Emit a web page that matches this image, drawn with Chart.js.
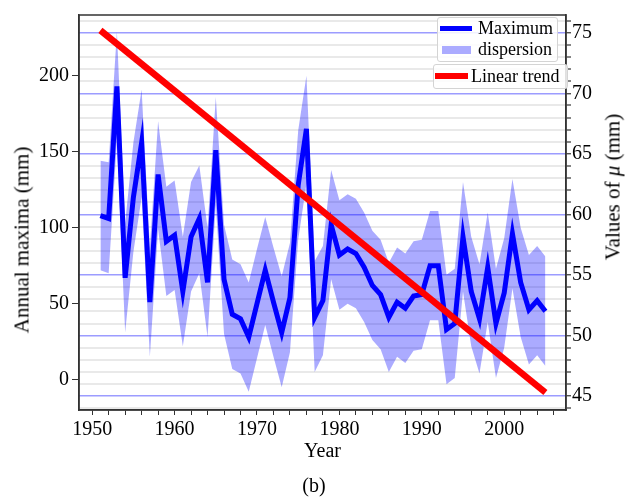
<!DOCTYPE html>
<html>
<head>
<meta charset="utf-8">
<script src="https://cdn.jsdelivr.net/npm/chart.js@4.4.1/dist/chart.umd.min.js"></script>
<style>
  html, body { margin: 0; padding: 0; background: #fff; }
  #wrap { position: relative; width: 628px; height: 501px; font-family: "Liberation Serif", serif; color: #000; }
  .ytitle { position: absolute; font-size: 21px; white-space: nowrap; transform: translate(-50%, -50%) rotate(-90deg); }
  .legend { position: absolute; background: rgba(255,255,255,0.85); border: 1px solid #d4d4d4; border-radius: 3px; box-sizing: border-box; font-size: 18px; }
  .legend div { position: absolute; }
  .legend .txt { line-height: 20px; white-space: nowrap; }
</style>
</head>
<body>
<div id="wrap">
  <canvas id="chart" width="628" height="501"></canvas>
  <div class="ytitle" style="left:22px; top:240px;">Annual maxima (mm)</div>
  <div class="ytitle" style="left:613px; top:187px;">Values of <i>μ</i> (mm)</div>
  <div class="legend" style="left:437px; top:17px; width:121px; height:45px;">
    <div style="left:2px; top:8px; width:32px; height:5px; background:#0000ff;"></div>
    <div class="txt" style="left:40px; top:0px;">Maximum</div>
    <div style="left:4px; top:28px; width:29px; height:8px; background:rgba(0,0,255,0.33);"></div>
    <div class="txt" style="left:40px; top:21px;">dispersion</div>
  </div>
  <div class="legend" style="left:433px; top:64px; width:135px; height:25px;">
    <div style="left:1px; top:8px; width:33px; height:6px; background:#ff0000;"></div>
    <div class="txt" style="left:37px; top:1px;">Linear trend</div>
  </div>
</div>
<script>
// annual maxima, 1951-2005
const years = [1951, 1952, 1953, 1954, 1955, 1956, 1957, 1958, 1959, 1960,
  1961, 1962, 1963, 1964, 1965, 1966, 1967, 1968, 1969, 1970,
  1971, 1972, 1973, 1974, 1975, 1976, 1977, 1978, 1979, 1980,
  1981, 1982, 1983, 1984, 1985, 1986, 1987, 1988, 1989, 1990,
  1991, 1992, 1993, 1994, 1995, 1996, 1997, 1998, 1999, 2000,
  2001, 2002, 2003, 2004, 2005];
const maxima = [108, 106, 193, 67, 120, 156, 51, 135, 91, 95,
  58, 94, 106, 64, 151, 66, 43, 40, 28, 50,
  72, 51, 31, 54, 128, 165, 41, 52, 102, 82,
  86, 83, 74, 62, 56, 41, 51, 47, 55, 56,
  75, 75, 33, 37, 94, 58, 40, 74, 37, 57,
  96, 64, 46, 52, 45];
const upper = [144, 143, 229, 103, 156, 191, 87, 170, 127, 131,
  94, 130, 141, 100, 186, 102, 79, 76, 64, 86,
  107, 87, 68, 90, 164, 200, 78, 88, 138, 118,
  122, 119, 110, 98, 92, 77, 87, 83, 91, 92,
  111, 111, 69, 73, 130, 94, 76, 110, 73, 93,
  132, 100, 82, 88, 81];
const lower = [72, 70, 157, 31, 84, 120, 15, 99, 55, 59,
  22, 58, 70, 28, 115, 30, 7, 4, -8, 14,
  36, 15, -5, 18, 92, 129, 5, 16, 66, 46,
  50, 47, 38, 26, 20, 5, 15, 11, 19, 20,
  39, 39, -3, 1, 58, 22, 4, 38, 1, 21,
  60, 28, 10, 16, 9];
// linear trend of mu (right axis)
const trendYears = [1951, 2005];
const trendMu = [75.2, 45.3];

const pts = (xs, ys) => xs.map((x, i) => ({x: x, y: ys[i]}));
const isMajor = v => Math.abs(v - Math.round(v)) < 1e-6 && Math.round(v) % 5 === 0;

const framePlugin = {
  id: "frame",
  beforeDatasetsDraw(chart) {
    const {ctx, chartArea: a} = chart;
    ctx.save();
    ctx.strokeStyle = "#333";
    ctx.lineWidth = 1.5;
    ctx.strokeRect(a.left, a.top, a.right - a.left, a.bottom - a.top);
    ctx.restore();
  }
};

Chart.defaults.font.family = "'Liberation Serif', serif";
Chart.defaults.color = "#000";

new Chart(document.getElementById("chart").getContext("2d"), {
  type: "line",
  data: {
    datasets: [
      {
        label: "Linear trend",
        data: pts(trendYears, trendMu),
        yAxisID: "y2",
        borderColor: "#ff0000",
        borderWidth: 6.5,
        borderCapStyle: "butt",
        pointRadius: 0,
        fill: false,
        order: 0
      },
      {
        label: "Maximum",
        data: pts(years, maxima),
        yAxisID: "y",
        borderColor: "#0000ff",
        borderWidth: 5,
        pointRadius: 0,
        fill: false,
        order: 1
      },
      {
        label: "dispersion",
        data: pts(years, upper),
        yAxisID: "y",
        borderWidth: 0,
        borderColor: "rgba(0,0,255,0)",
        backgroundColor: "rgba(0,0,255,0.33)",
        pointRadius: 0,
        fill: "+1",
        order: 2
      },
      {
        label: "lower",
        data: pts(years, lower),
        yAxisID: "y",
        borderWidth: 0,
        borderColor: "rgba(0,0,255,0)",
        pointRadius: 0,
        fill: false,
        order: 3
      }
    ]
  },
  options: {
    responsive: false,
    animation: false,
    layout: { padding: { top: 10, left: 0, right: 0, bottom: 0 } },
    elements: { line: { tension: 0 } },
    plugins: {
      legend: { display: false },
      tooltip: { enabled: false },
      title: {
        display: true,
        text: "(b)",
        position: "bottom",
        font: { size: 20, weight: "normal" },
        padding: { top: 9, bottom: 2 }
      }
    },
    scales: {
      x: {
        type: "linear",
        min: 1948.4,
        max: 2007.5,
        afterFit(scale) { scale.height = 56; },
        border: { display: true, color: "#333", width: 1.5 },
        grid: { drawOnChartArea: false, drawTicks: true, tickLength: 5, color: "#333" },
        ticks: {
          stepSize: 2,
          includeBounds: false,
          autoSkip: false,
          maxRotation: 0,
          padding: 3,
          font: { size: 20 },
          callback: v => (v % 10 === 0 ? String(v) : "")
        },
        title: { display: true, text: "Year", font: { size: 20 }, padding: { top: 0, bottom: 2 } }
      },
      y: {
        position: "left",
        min: -20,
        max: 240,
        afterFit(scale) { scale.width = 79; },
        border: { display: true, color: "#333", width: 1.5 },
        grid: { drawOnChartArea: false, drawTicks: true, tickLength: 7, color: "#333" },
        ticks: { stepSize: 50, includeBounds: false, padding: 3, font: { size: 20 } }
      },
      y2: {
        position: "right",
        min: 43.86,
        max: 76.47,
        afterFit(scale) { scale.width = 62; },
        border: { display: true, color: "#333", width: 1.5 },
        grid: {
          drawOnChartArea: true,
          drawTicks: true,
          tickLength: 5,
          color: ctx => (isMajor(ctx.tick.value) ? "rgba(90,90,255,0.6)" : "#e9e9e9"),
          lineWidth: ctx => (isMajor(ctx.tick.value) ? 1.5 : 2),
          tickColor: "#333",
          tickWidth: 1.2
        },
        ticks: {
          stepSize: 1,
          includeBounds: false,
          autoSkip: false,
          padding: 1,
          font: { size: 20 },
          callback: v => (isMajor(v) ? String(Math.round(v)) : "")
        }
      }
    }
  },
  plugins: [framePlugin]
});
</script>
</body>
</html>
